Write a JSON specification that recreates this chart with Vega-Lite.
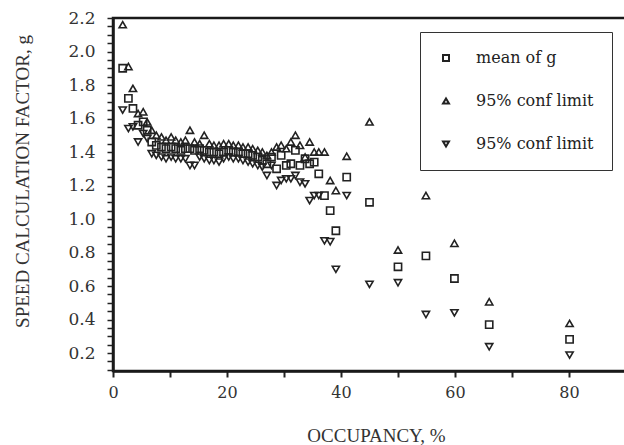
{
  "$schema": "https://vega.github.io/schema/vega-lite/v6.json",
  "autosize": {"type": "none"},
  "padding": {"left": 113, "top": 18, "right": 0, "bottom": 74},
  "width": 513,
  "height": 353,
  "background": "white",
  "config": {
    "view": {"stroke": "#1a1a1a", "strokeWidth": 2.5},
    "axis": {"grid": false}
  },
  "data": {
    "values": [
      {"o":1.7,"g":1.90,"s":"mean"},{"o":1.7,"g":2.16,"s":"upper"},{"o":1.7,"g":1.65,"s":"lower"},
      {"o":2.7,"g":1.72,"s":"mean"},{"o":2.7,"g":1.91,"s":"upper"},{"o":2.7,"g":1.54,"s":"lower"},
      {"o":3.5,"g":1.66,"s":"mean"},{"o":3.5,"g":1.78,"s":"upper"},{"o":3.5,"g":1.55,"s":"lower"},
      {"o":4.4,"g":1.56,"s":"mean"},{"o":4.4,"g":1.63,"s":"upper"},{"o":4.4,"g":1.46,"s":"lower"},
      {"o":5.3,"g":1.58,"s":"mean"},{"o":5.3,"g":1.64,"s":"upper"},{"o":5.3,"g":1.51,"s":"lower"},
      {"o":6.0,"g":1.53,"s":"mean"},{"o":6.0,"g":1.58,"s":"upper"},{"o":6.0,"g":1.48,"s":"lower"},
      {"o":6.8,"g":1.46,"s":"mean"},{"o":6.8,"g":1.53,"s":"upper"},{"o":6.8,"g":1.39,"s":"lower"},
      {"o":7.6,"g":1.44,"s":"mean"},{"o":7.6,"g":1.50,"s":"upper"},{"o":7.6,"g":1.38,"s":"lower"},
      {"o":8.5,"g":1.43,"s":"mean"},{"o":8.5,"g":1.49,"s":"upper"},{"o":8.5,"g":1.37,"s":"lower"},
      {"o":9.3,"g":1.42,"s":"mean"},{"o":9.3,"g":1.47,"s":"upper"},{"o":9.3,"g":1.36,"s":"lower"},
      {"o":10.2,"g":1.43,"s":"mean"},{"o":10.2,"g":1.49,"s":"upper"},{"o":10.2,"g":1.37,"s":"lower"},
      {"o":11.0,"g":1.42,"s":"mean"},{"o":11.0,"g":1.47,"s":"upper"},{"o":11.0,"g":1.36,"s":"lower"},
      {"o":11.9,"g":1.41,"s":"mean"},{"o":11.9,"g":1.46,"s":"upper"},{"o":11.9,"g":1.36,"s":"lower"},
      {"o":12.7,"g":1.42,"s":"mean"},{"o":12.7,"g":1.47,"s":"upper"},{"o":12.7,"g":1.36,"s":"lower"},
      {"o":13.5,"g":1.42,"s":"mean"},{"o":13.5,"g":1.53,"s":"upper"},{"o":13.5,"g":1.32,"s":"lower"},
      {"o":14.3,"g":1.41,"s":"mean"},{"o":14.3,"g":1.46,"s":"upper"},{"o":14.3,"g":1.32,"s":"lower"},
      {"o":15.2,"g":1.42,"s":"mean"},{"o":15.2,"g":1.45,"s":"upper"},{"o":15.2,"g":1.37,"s":"lower"},
      {"o":16.0,"g":1.41,"s":"mean"},{"o":16.0,"g":1.50,"s":"upper"},{"o":16.0,"g":1.36,"s":"lower"},
      {"o":16.9,"g":1.40,"s":"mean"},{"o":16.9,"g":1.45,"s":"upper"},{"o":16.9,"g":1.35,"s":"lower"},
      {"o":17.7,"g":1.40,"s":"mean"},{"o":17.7,"g":1.44,"s":"upper"},{"o":17.7,"g":1.35,"s":"lower"},
      {"o":18.6,"g":1.39,"s":"mean"},{"o":18.6,"g":1.44,"s":"upper"},{"o":18.6,"g":1.34,"s":"lower"},
      {"o":19.4,"g":1.40,"s":"mean"},{"o":19.4,"g":1.45,"s":"upper"},{"o":19.4,"g":1.36,"s":"lower"},
      {"o":20.3,"g":1.41,"s":"mean"},{"o":20.3,"g":1.45,"s":"upper"},{"o":20.3,"g":1.37,"s":"lower"},
      {"o":21.1,"g":1.40,"s":"mean"},{"o":21.1,"g":1.44,"s":"upper"},{"o":21.1,"g":1.36,"s":"lower"},
      {"o":22.0,"g":1.40,"s":"mean"},{"o":22.0,"g":1.44,"s":"upper"},{"o":22.0,"g":1.36,"s":"lower"},
      {"o":22.8,"g":1.39,"s":"mean"},{"o":22.8,"g":1.43,"s":"upper"},{"o":22.8,"g":1.35,"s":"lower"},
      {"o":23.7,"g":1.39,"s":"mean"},{"o":23.7,"g":1.43,"s":"upper"},{"o":23.7,"g":1.34,"s":"lower"},
      {"o":24.5,"g":1.38,"s":"mean"},{"o":24.5,"g":1.42,"s":"upper"},{"o":24.5,"g":1.33,"s":"lower"},
      {"o":25.4,"g":1.37,"s":"mean"},{"o":25.4,"g":1.41,"s":"upper"},{"o":25.4,"g":1.32,"s":"lower"},
      {"o":26.2,"g":1.35,"s":"mean"},{"o":26.2,"g":1.40,"s":"upper"},{"o":26.2,"g":1.31,"s":"lower"},
      {"o":27.0,"g":1.33,"s":"mean"},{"o":27.0,"g":1.38,"s":"upper"},{"o":27.0,"g":1.26,"s":"lower"},
      {"o":27.8,"g":1.37,"s":"mean"},{"o":27.8,"g":1.40,"s":"upper"},{"o":27.8,"g":1.32,"s":"lower"},
      {"o":28.7,"g":1.30,"s":"mean"},{"o":28.7,"g":1.43,"s":"upper"},{"o":28.7,"g":1.20,"s":"lower"},
      {"o":29.5,"g":1.38,"s":"mean"},{"o":29.5,"g":1.44,"s":"upper"},{"o":29.5,"g":1.23,"s":"lower"},
      {"o":30.4,"g":1.32,"s":"mean"},{"o":30.4,"g":1.42,"s":"upper"},{"o":30.4,"g":1.24,"s":"lower"},
      {"o":31.2,"g":1.33,"s":"mean"},{"o":31.2,"g":1.46,"s":"upper"},{"o":31.2,"g":1.24,"s":"lower"},
      {"o":32.0,"g":1.41,"s":"mean"},{"o":32.0,"g":1.50,"s":"upper"},{"o":32.0,"g":1.26,"s":"lower"},
      {"o":32.8,"g":1.32,"s":"mean"},{"o":32.8,"g":1.44,"s":"upper"},{"o":32.8,"g":1.22,"s":"lower"},
      {"o":33.7,"g":1.36,"s":"mean"},{"o":33.7,"g":1.37,"s":"upper"},{"o":33.7,"g":1.21,"s":"lower"},
      {"o":34.5,"g":1.33,"s":"mean"},{"o":34.5,"g":1.46,"s":"upper"},{"o":34.5,"g":1.11,"s":"lower"},
      {"o":35.3,"g":1.34,"s":"mean"},{"o":35.3,"g":1.40,"s":"upper"},{"o":35.3,"g":1.14,"s":"lower"},
      {"o":36.1,"g":1.27,"s":"mean"},{"o":36.1,"g":1.40,"s":"upper"},{"o":36.1,"g":1.14,"s":"lower"},
      {"o":37.1,"g":1.14,"s":"mean"},{"o":37.1,"g":1.40,"s":"upper"},{"o":37.1,"g":0.87,"s":"lower"},
      {"o":38.1,"g":1.05,"s":"mean"},{"o":38.1,"g":1.23,"s":"upper"},{"o":38.1,"g":0.865,"s":"lower"},
      {"o":39.1,"g":0.93,"s":"mean"},{"o":39.1,"g":1.17,"s":"upper"},{"o":39.1,"g":0.70,"s":"lower"},
      {"o":41.0,"g":1.25,"s":"mean"},{"o":41.0,"g":1.375,"s":"upper"},{"o":41.0,"g":1.14,"s":"lower"},
      {"o":45.0,"g":1.10,"s":"mean"},{"o":45.0,"g":1.58,"s":"upper"},{"o":45.0,"g":0.61,"s":"lower"},
      {"o":50.0,"g":0.715,"s":"mean"},{"o":50.0,"g":0.815,"s":"upper"},{"o":50.0,"g":0.62,"s":"lower"},
      {"o":54.9,"g":0.78,"s":"mean"},{"o":54.9,"g":1.14,"s":"upper"},{"o":54.9,"g":0.43,"s":"lower"},
      {"o":59.9,"g":0.645,"s":"mean"},{"o":59.9,"g":0.855,"s":"upper"},{"o":59.9,"g":0.44,"s":"lower"},
      {"o":66.0,"g":0.37,"s":"mean"},{"o":66.0,"g":0.506,"s":"upper"},{"o":66.0,"g":0.238,"s":"lower"},
      {"o":80.1,"g":0.282,"s":"mean"},{"o":80.1,"g":0.377,"s":"upper"},{"o":80.1,"g":0.188,"s":"lower"}
    ]
  },
  "mark": {"type": "point", "filled": false, "size": 52, "strokeWidth": 1.6, "color": "#222222", "opacity": 1},
  "encoding": {
    "x": {
      "field": "o", "type": "quantitative",
      "scale": {"domain": [0, 90], "nice": false, "zero": false},
      "axis": {
        "tickCount": 9,
        "labelExpr": "datum.value % 20 === 0 ? datum.label : ''",
        "title": "OCCUPANCY, %",
        "titleFont": "Liberation Serif", "titleFontSize": 19, "titleFontWeight": "normal", "titleColor": "#333333",
        "titleX": 263, "titleY": 55, "titleBaseline": "top", "titleAlign": "center",
        "labelFont": "DejaVu Serif", "labelFontSize": 16, "labelColor": "#333333", "labelPadding": 7,
        "tickSize": 6, "tickWidth": 2, "tickColor": "#222222",
        "domainColor": "#1a1a1a", "domainWidth": 2.5, "labelFlush": false, "labelOverlap": false
      }
    },
    "y": {
      "field": "g", "type": "quantitative",
      "scale": {"domain": [0.093, 2.2], "nice": false, "zero": false},
      "axis": {
        "tickCount": 42,
        "labelExpr": "abs(datum.value * 5 - round(datum.value * 5)) < 0.01 ? format(datum.value, '.1f') : ''",
        "title": "SPEED CALCULATION FACTOR, g",
        "titleFont": "Liberation Serif", "titleFontSize": 19, "titleFontWeight": "normal", "titleColor": "#333333",
        "titleX": -91, "titleY": 163, "titleBaseline": "middle", "titleAlign": "center", "titleAngle": -90,
        "labelFont": "DejaVu Serif", "labelFontSize": 17, "labelColor": "#333333", "labelPadding": 12,
        "tickSize": 6, "tickWidth": 1.5, "tickColor": "#222222",
        "domainColor": "#1a1a1a", "domainWidth": 2.5, "labelFlush": false, "labelOverlap": false
      }
    },
    "shape": {
      "field": "s", "type": "nominal",
      "scale": {"domain": ["mean", "upper", "lower"], "range": ["square", "triangle-up", "triangle-down"]},
      "legend": {
        "orient": "none", "legendX": 307, "legendY": 14,
        "title": null,
        "labelExpr": "datum.label === 'mean' ? 'mean of g' : '95% conf limit'",
        "labelFont": "DejaVu Serif", "labelFontSize": 16, "labelColor": "#222222",
        "labelOffset": 22, "rowPadding": 27, "padding": 18,
        "symbolSize": 36, "symbolStrokeWidth": 2, "symbolStrokeColor": "#222222", "symbolFillColor": "transparent",
        "strokeColor": "#333333", "fillColor": "white"
      }
    }
  }
}
